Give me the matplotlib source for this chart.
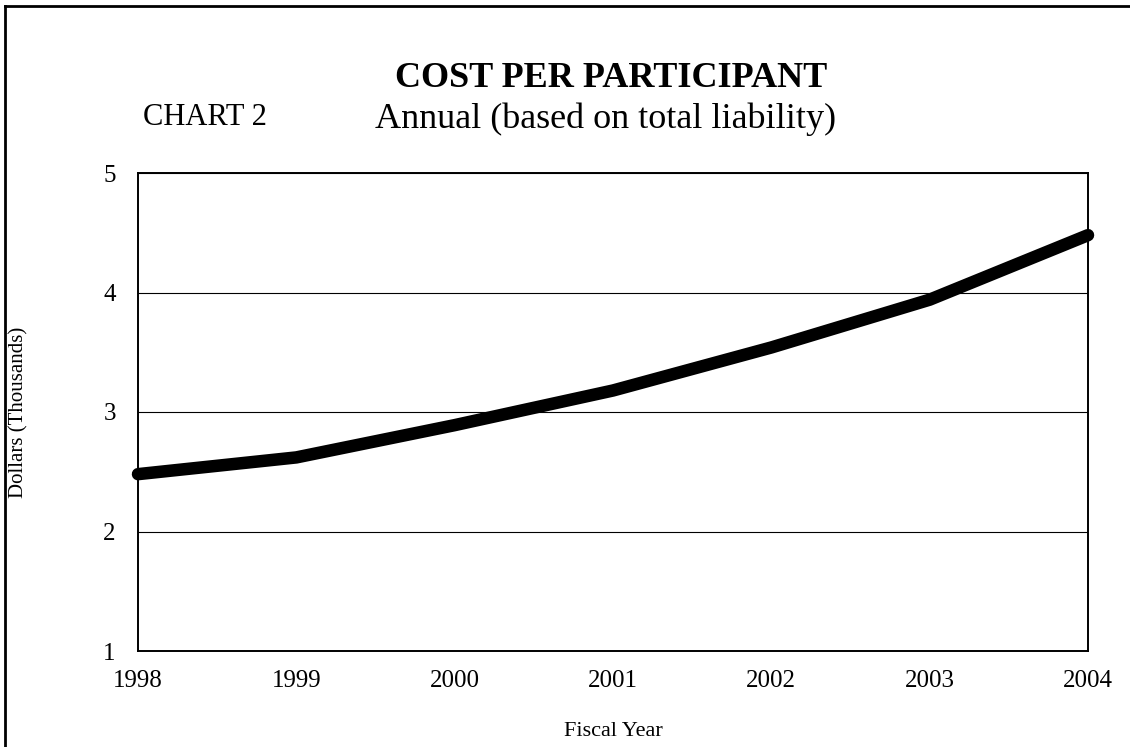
import matplotlib
matplotlib.use("Agg")
import matplotlib.pyplot as plt
from matplotlib.lines import Line2D

# data
years = [1998, 1999, 2000, 2001, 2002, 2003, 2004]
cost_thousands = [2.48, 2.62, 2.89, 3.18, 3.54, 3.94, 4.48]
y_ticks = [1, 2, 3, 4, 5]

plt.rcParams['font.family'] = ['Liberation Serif', 'DejaVu Serif']

W, H = 1130, 747
fig = plt.figure(figsize=(W / 100, H / 100), dpi=100)
ax = fig.add_axes([138 / W, 1 - 651 / H, (1088 - 138) / W, (651 - 173) / H])

ax.plot(years, cost_thousands, color='black', lw=9, solid_capstyle='round',
        solid_joinstyle='round', clip_on=False, zorder=3)

ax.set_xlim(years[0], years[-1])
ax.set_ylim(y_ticks[0], y_ticks[-1])
ax.set_xticks(years)
ax.set_yticks(y_ticks)
ax.tick_params(axis='both', length=0, labelsize=18)
ax.tick_params(axis='x', pad=14)
ax.tick_params(axis='y', pad=16)
ax.grid(axis='y', color='black', lw=0.8)
ax.set_axisbelow(True)
for s in ax.spines.values():
    s.set_linewidth(1.4)
    s.set_color('black')

# axis titles placed in figure pixels
fig.text(613 / W, 1 - 736 / H, 'Fiscal Year', fontsize=16, ha='center',
         va='baseline')
fig.text(19 / W, 1 - 412 / H, 'Dollars (Thousands)', fontsize=15,
         rotation=90, ha='center', va='center')

fig.text(611 / W, 1 - 87 / H, 'COST PER PARTICIPANT', fontsize=26,
         fontweight='bold', ha='center', va='baseline')
fig.text(606 / W, 1 - 128 / H, 'Annual (based on total liability)',
         fontsize=26, ha='center', va='baseline')
fig.text(143 / W, 1 - 125 / H, 'CHART 2', fontsize=22, ha='left',
         va='baseline')

# page frame: only top and left edges show
fig.add_artist(Line2D([5 / W, 5 / W], [0, 1 - 6 / H], color='black', lw=2))
fig.add_artist(Line2D([5 / W, 1], [1 - 6 / H, 1 - 6 / H], color='black', lw=2))

fig.savefig('out.png', dpi=100)
